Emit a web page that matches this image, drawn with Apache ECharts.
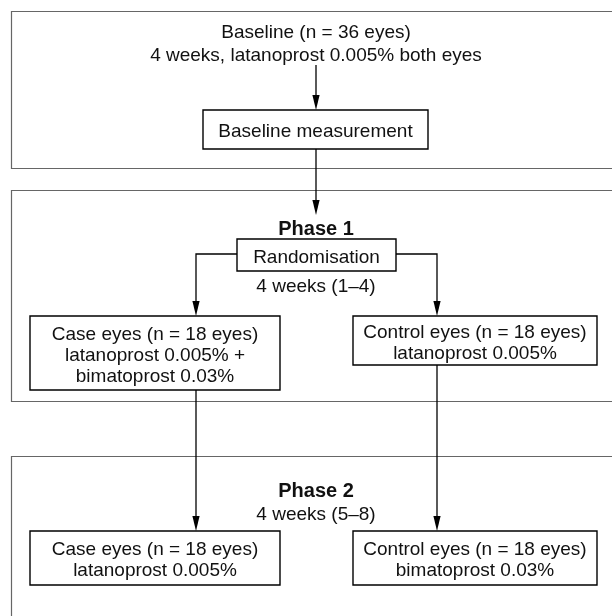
<!DOCTYPE html>
<html><head><meta charset="utf-8">
<script src="https://cdn.jsdelivr.net/npm/echarts@6/dist/echarts.min.js"></script>
<style>html,body{margin:0;padding:0;background:#fff}#c{width:612px;height:616px}</style>
</head><body><div id="c"></div><script>
// Diagram content
const nodeLabels = [
  ['Baseline measurement'],
  ['Randomisation'],
  ['Case eyes (n = 18 eyes)', 'latanoprost 0.005% +', 'bimatoprost 0.03%'],
  ['Control eyes (n = 18 eyes)', 'latanoprost 0.005%'],
  ['Case eyes (n = 18 eyes)', 'latanoprost 0.005%'],
  ['Control eyes (n = 18 eyes)', 'bimatoprost 0.03%']
];
const freeTexts = ['Baseline (n = 36 eyes)', '4 weeks, latanoprost 0.005% both eyes', 'Phase 1', '4 weeks (1–4)', 'Phase 2', '4 weeks (5–8)'];
const freeTextBold = [false, false, true, false, true, false];

// Layout in diagram units (axis coordinates)
const nodeBoxes = [[203,110,428,149],[237,239,396,271],[30,316,280,390],[353,316,597,365],[30,531,280,585],[353,531,597,585]];
const freeTextPos = [[316,33],[316,56],[316,229],[316,287],[316,491],[316,515]];
const sectionBoxes = [[11,11,640,168],[11,190,640,401],[11,456,640,660]];
const connectors = [
  [[316,65],[316,110]],
  [[316,149],[316,215]],
  [[237,254],[196,254],[196,316]],
  [[396,254],[437,254],[437,316]],
  [[196,390],[196,531]],
  [[437,365],[437,531]]
];

const FONT = '"Liberation Sans", Arial, sans-serif';
const FS = 19;
const LH = 21;
const TEXT_SHIFT = 2.5;

const chart = echarts.init(document.getElementById('c'), null, {renderer: 'canvas'});

function idx(arr) { return arr.map((_, i) => [i]); }

const option = {
  animation: false,
  backgroundColor: '#fff',
  grid: {left: 0, right: 0, top: 0, bottom: 0},
  xAxis: {type: 'value', min: 0, max: 612, show: false},
  yAxis: {type: 'value', min: 0, max: 616, inverse: true, show: false},
  series: [
    {
      type: 'custom', name: 'sections', clip: false, silent: true,
      data: idx(sectionBoxes),
      renderItem: function (params, api) {
        const b = sectionBoxes[api.value(0)];
        const p1 = api.coord([b[0], b[1]]), p2 = api.coord([b[2], b[3]]);
        return {type: 'rect', shape: {x: p1[0] + 0.5, y: p1[1] + 0.5, width: p2[0] - p1[0], height: p2[1] - p1[1]},
          style: {fill: 'none', stroke: '#666', lineWidth: 1.2}};
      }
    },
    {
      type: 'custom', name: 'connectors', clip: false, silent: true,
      data: idx(connectors),
      renderItem: function (params, api) {
        const pts = connectors[api.value(0)].map(p => api.coord(p));
        const n = pts.length;
        const tip = pts[n - 1], prev = pts[n - 2];
        const dx = tip[0] - prev[0], dy = tip[1] - prev[1];
        const len = Math.sqrt(dx * dx + dy * dy);
        const ux = dx / len, uy = dy / len;
        const AL = 15, AW = 3.6;
        const base = [tip[0] - ux * AL, tip[1] - uy * AL];
        const linePts = pts.slice(0, n - 1).concat([base]);
        return {type: 'group', children: [
          {type: 'polyline', shape: {points: linePts}, style: {fill: 'none', stroke: '#000', lineWidth: 1.3}},
          {type: 'polygon', shape: {points: [tip, [base[0] - uy * AW, base[1] + ux * AW], [base[0] + uy * AW, base[1] - ux * AW]]},
            style: {fill: '#000'}}
        ]};
      }
    },
    {
      type: 'custom', name: 'nodes', clip: false, silent: true,
      data: idx(nodeBoxes),
      renderItem: function (params, api) {
        const i = api.value(0);
        const b = nodeBoxes[i];
        const p1 = api.coord([b[0], b[1]]), p2 = api.coord([b[2], b[3]]);
        const lines = nodeLabels[i];
        const cx = (p1[0] + p2[0]) / 2, cy = (p1[1] + p2[1]) / 2 + TEXT_SHIFT;
        const children = [{type: 'rect', shape: {x: p1[0], y: p1[1], width: p2[0] - p1[0], height: p2[1] - p1[1]},
          style: {fill: '#fff', stroke: '#000', lineWidth: 1.4}}];
        lines.forEach((t, k) => {
          children.push({type: 'text', style: {text: t, x: cx, y: cy + (k - (lines.length - 1) / 2) * LH,
            align: 'center', verticalAlign: 'middle', font: FS + 'px ' + FONT, fill: '#111'}});
        });
        return {type: 'group', children: children};
      }
    },
    {
      type: 'custom', name: 'texts', clip: false, silent: true,
      data: idx(freeTexts),
      renderItem: function (params, api) {
        const i = api.value(0);
        const p = api.coord(freeTextPos[i]);
        return {type: 'text', style: {text: freeTexts[i], x: p[0], y: p[1], align: 'center', verticalAlign: 'middle',
          font: (freeTextBold[i] ? 'bold ' : '') + (freeTextBold[i] ? 20 : FS) + 'px ' + FONT, fill: '#111'}};
      }
    }
  ]
};
chart.setOption(option);
</script></body></html>
